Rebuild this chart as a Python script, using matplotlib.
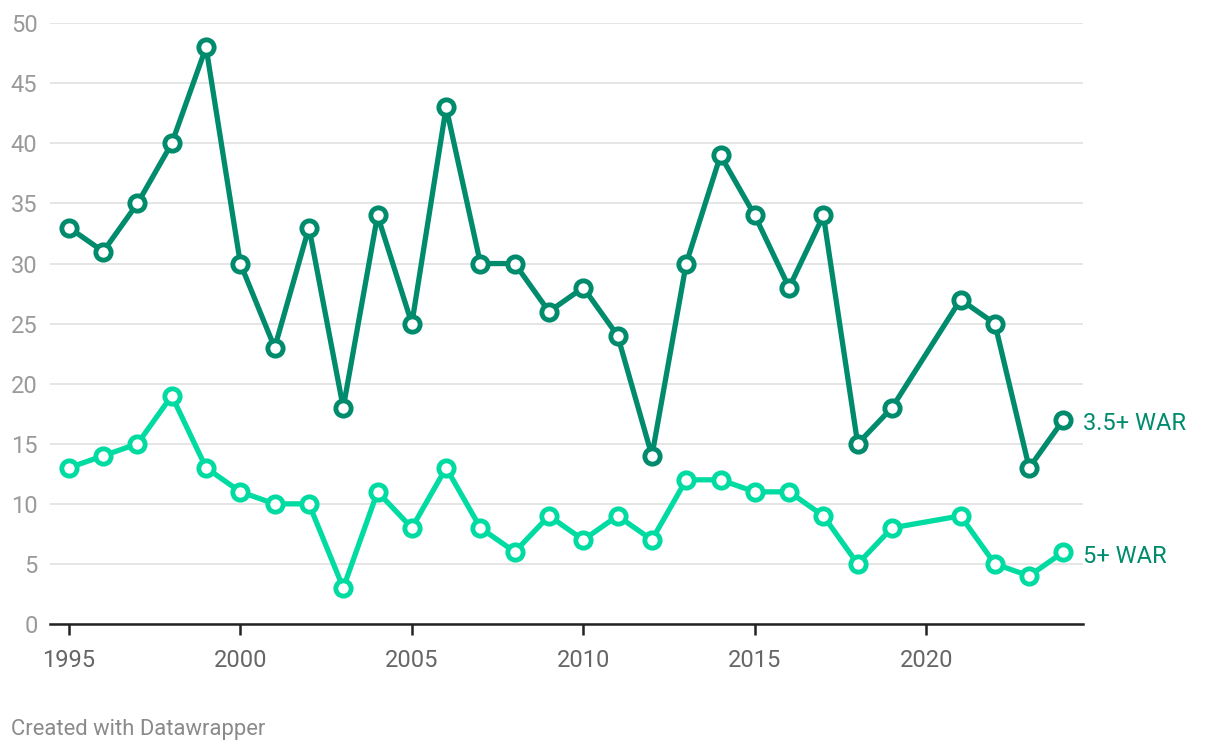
import matplotlib.pyplot as plt

years = [1995, 1996, 1997, 1998, 1999, 2000, 2001, 2002, 2003, 2004, 2005, 2006, 2007,
         2008, 2009, 2010, 2011, 2012, 2013, 2014, 2015, 2016, 2017, 2018, 2019,
         2021, 2022, 2023, 2024]
war_35 = [33, 31, 35, 40, 48, 30, 23, 33, 18, 34, 25, 43, 30,
          30, 26, 28, 24, 14, 30, 39, 34, 28, 34, 15, 18,
          27, 25, 13, 17]
war_5 = [13, 14, 15, 19, 13, 11, 10, 10, 3, 11, 8, 13, 8,
         6, 9, 7, 9, 7, 12, 12, 11, 11, 9, 5, 8,
         9, 5, 4, 6]
labels = ["3.5+ WAR", "5+ WAR"]
x_ticks = [1995, 2000, 2005, 2010, 2015, 2020]
y_ticks = [0, 5, 10, 15, 20, 25, 30, 35, 40, 45, 50]

dark = "#008b6d"
light = "#00dba2"

plt.rcParams["font.family"] = ["Roboto", "DejaVu Sans"]

fig = plt.figure(figsize=(12.2, 7.5), dpi=100)
ax = fig.add_axes([0.041, 0.168, 0.847, 0.801])

for vals, color in [(war_35, dark), (war_5, light)]:
    ax.plot(years, vals, color=color, lw=3.8, marker="o", ms=11,
            mfc="white", mec=color, mew=3.5, zorder=3, clip_on=False)

# end labels sit a touch below the last point
ax.text(years[-1] + 0.58, war_35[-1] - 0.35, labels[0], color=dark, fontsize=17,
        va="center", ha="left")
ax.text(years[-1] + 0.58, war_5[-1] - 0.35, labels[1], color=dark, fontsize=17,
        va="center", ha="left")

ax.set_xlim(1994.45, 2024.58)
ax.set_ylim(0, 50)
ax.set_yticks(y_ticks)
ax.set_xticks(x_ticks)
ax.grid(axis="y", color="#e3e3e3", lw=1.3, zorder=0)
ax.set_axisbelow(True)

for s in ["top", "right", "left"]:
    ax.spines[s].set_visible(False)
ax.spines["bottom"].set_color("#222222")
ax.spines["bottom"].set_linewidth(1.8)
ax.spines["bottom"].set_zorder(2)

ax.tick_params(axis="y", length=0, pad=9, labelsize=17, labelcolor="#9a9a9a")
ax.tick_params(axis="x", length=8, width=1.8, color="#222222", pad=10,
               labelsize=17, labelcolor="#666666")

fig.text(0.009, 0.02, "Created with Datawrapper", fontsize=15.8, color="#8a8a8a",
         ha="left", va="baseline")

fig.savefig("out.png", dpi=100)
